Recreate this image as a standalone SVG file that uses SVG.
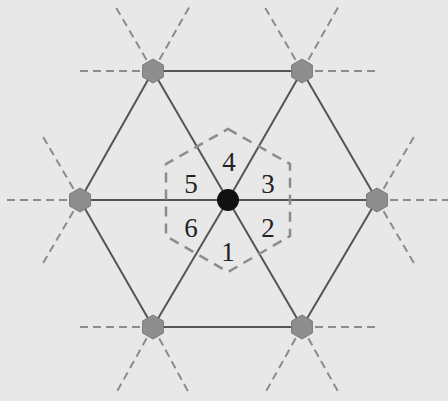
<svg xmlns="http://www.w3.org/2000/svg" width="448" height="401" viewBox="0 0 448 401">
<style>
.solid{stroke:#555;stroke-width:2;fill:none}
.dash{stroke:#8c8c8c;stroke-width:2;stroke-dasharray:8 5;fill:none}
.node{fill:#8e8e8e;stroke:#7a7a7a;stroke-width:1}
.lbl{font-family:"Liberation Serif",serif;font-size:27px;fill:#222;text-anchor:middle}
</style>
<rect width="448" height="401" fill="#e8e8e8"/>
<g id="connectors">
<path class="solid" d="M153,71 L302,71 L377,200 L302,327 L153,327 L80,200 Z"/>
<path class="solid" d="M228,200 L153,71 M228,200 L302,71 M228,200 L377,200 M228,200 L302,327 M228,200 L153,327 M228,200 L80,200"/>
<path class="dash" d="M153,71 L114,4 M153,71 L191,4 M153,71 L78,71"/>
<path class="dash" d="M302,71 L263,4 M302,71 L340,4 M302,71 L378,71"/>
<path class="dash" d="M80,200 L4,200 M80,200 L42,135 M80,200 L42,265"/>
<path class="dash" d="M377,200 L448,200 M377,200 L415,135 M377,200 L415,265"/>
<path class="dash" d="M153,327 L78,327 M153,327 L115,395 M153,327 L190,395"/>
<path class="dash" d="M302,327 L378,327 M302,327 L264,395 M302,327 L340,395"/>
<path class="dash" d="M228,129 L290,164 L290,236 L228,272 L166,236 L166,164 Z" style="stroke-width:2.5;stroke-dasharray:10 7"/>
</g>
<g id="n-tl"><polygon class="node" points="153,59 163.4,65 163.4,77 153,83 142.6,77 142.6,65"/></g>
<g id="n-tr"><polygon class="node" points="302,59 312.4,65 312.4,77 302,83 291.6,77 291.6,65"/></g>
<g id="n-l"><polygon class="node" points="80,188 90.4,194 90.4,206 80,212 69.6,206 69.6,194"/></g>
<g id="n-r"><polygon class="node" points="377,188 387.4,194 387.4,206 377,212 366.6,206 366.6,194"/></g>
<g id="n-bl"><polygon class="node" points="153,315 163.4,321 163.4,333 153,339 142.6,333 142.6,321"/></g>
<g id="n-br"><polygon class="node" points="302,315 312.4,321 312.4,333 302,339 291.6,333 291.6,321"/></g>
<g id="n-center"><circle cx="228" cy="200" r="11" fill="#111"/></g>
<g id="labels">
<text class="lbl" x="229" y="171">4</text>
<text class="lbl" x="191" y="193">5</text>
<text class="lbl" x="268" y="193">3</text>
<text class="lbl" x="191" y="237">6</text>
<text class="lbl" x="268" y="237">2</text>
<text class="lbl" x="228" y="261">1</text>
</g>
</svg>
